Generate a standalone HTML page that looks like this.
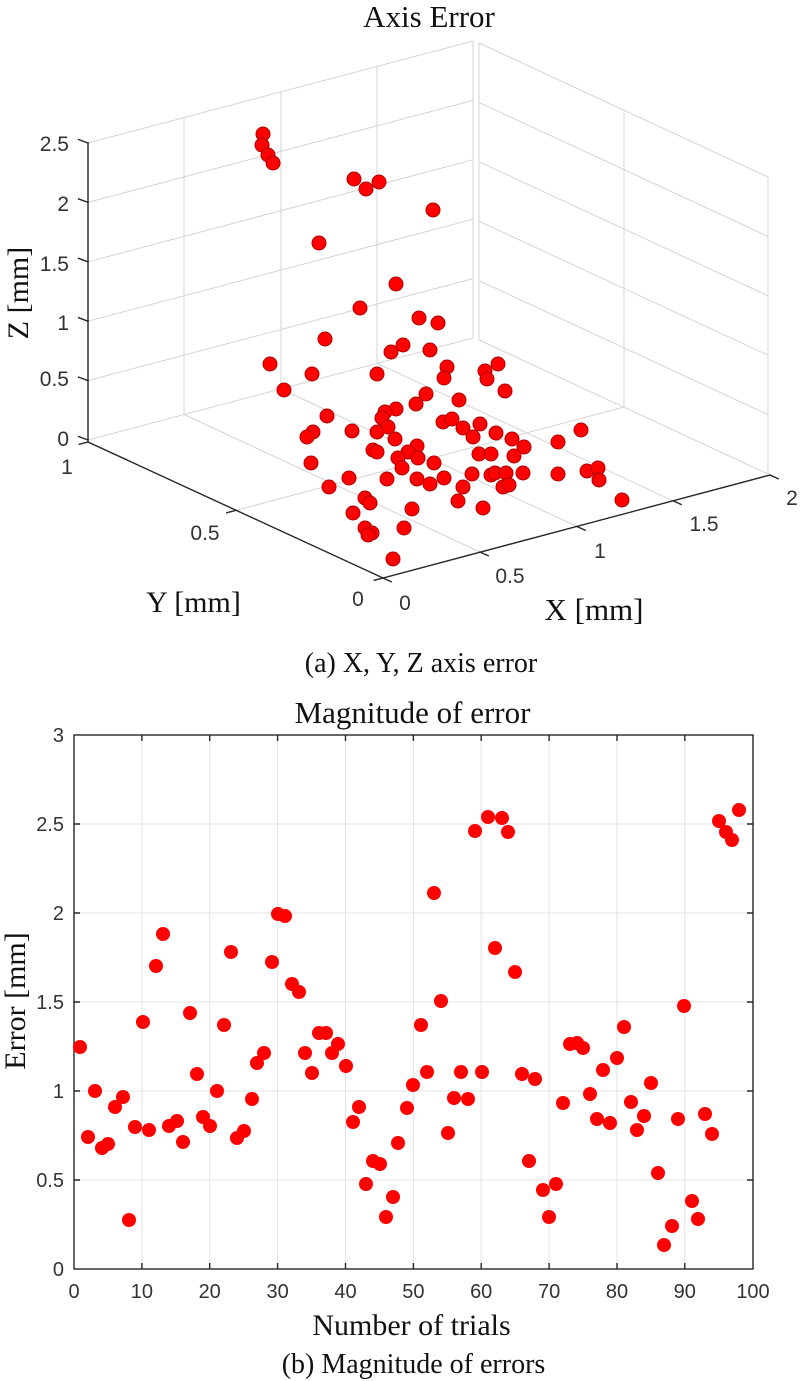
<!DOCTYPE html>
<html>
<head>
<meta charset="utf-8">
<style>
  html, body { margin:0; padding:0; background:#fff; }
  svg { display:block; }
  .serif { font-family: "Liberation Serif", serif; fill:#111; }
  .tick { font-family: "Liberation Sans", sans-serif; fill:#333; }
</style>
</head>
<body>
<svg width="800" height="1381" viewBox="0 0 800 1381" xmlns="http://www.w3.org/2000/svg">
<rect x="0" y="0" width="800" height="1381" fill="#fff"/>

<text class="serif" x="429" y="27" font-size="31" text-anchor="middle">Axis Error</text>

<g stroke="#d4d4d4" stroke-width="1" fill="none">
  <line x1="88" y1="440" x2="473" y2="338"/>
  <line x1="88" y1="380.6" x2="473" y2="278.6"/>
  <line x1="88" y1="321.2" x2="473" y2="219.2"/>
  <line x1="88" y1="261.8" x2="473" y2="159.8"/>
  <line x1="88" y1="202.4" x2="473" y2="100.4"/>
  <line x1="88" y1="143" x2="473" y2="41"/>
  <line x1="184" y1="414.5" x2="184" y2="117.5"/>
  <line x1="281" y1="388.9" x2="281" y2="91.9"/>
  <line x1="377" y1="363.4" x2="377" y2="66.4"/>
  <line x1="473" y1="338" x2="473" y2="41"/>
  <line x1="479" y1="340" x2="768" y2="474"/>
  <line x1="479" y1="280.6" x2="768" y2="414.6"/>
  <line x1="479" y1="221.2" x2="768" y2="355.2"/>
  <line x1="479" y1="161.8" x2="768" y2="295.8"/>
  <line x1="479" y1="102.4" x2="768" y2="236.4"/>
  <line x1="479" y1="43" x2="768" y2="177"/>
  <line x1="479" y1="340" x2="479" y2="43"/>
  <line x1="624" y1="407.2" x2="624" y2="110.2"/>
  <line x1="768" y1="474" x2="768" y2="177"/>
  <line x1="480" y1="552" x2="184" y2="414.5"/>
  <line x1="577" y1="526.5" x2="281" y2="389"/>
  <line x1="673" y1="500.8" x2="377" y2="363.4"/>
  <line x1="235.5" y1="510.5" x2="624" y2="407"/>
</g>

<g stroke="#262626" stroke-width="1.4" fill="none" stroke-linecap="square">
  <line x1="88" y1="442" x2="88" y2="143"/>
  <line x1="88" y1="442" x2="383" y2="578"/>
  <line x1="383" y1="578" x2="770" y2="475"/>
  <line x1="88" y1="440" x2="78.5" y2="436.5"/>
  <line x1="88" y1="380.6" x2="78.5" y2="377.1"/>
  <line x1="88" y1="321.2" x2="78.5" y2="317.7"/>
  <line x1="88" y1="261.8" x2="78.5" y2="258.3"/>
  <line x1="88" y1="202.4" x2="78.5" y2="198.9"/>
  <line x1="88" y1="143" x2="78.5" y2="139.5"/>
  <line x1="88" y1="442" x2="79.3" y2="444.3"/>
  <line x1="235.5" y1="510.5" x2="226.8" y2="512.8"/>
  <line x1="383" y1="578" x2="374.3" y2="580.3"/>
  <line x1="383" y1="578" x2="391.2" y2="581.7"/>
  <line x1="480" y1="552" x2="488.2" y2="555.7"/>
  <line x1="577" y1="526.5" x2="585.2" y2="530.2"/>
  <line x1="673" y1="500.8" x2="681.2" y2="504.5"/>
  <line x1="770" y1="475" x2="778.2" y2="478.7"/>
</g>

<g class="tick" font-size="21">
  <text x="69" y="446" text-anchor="end">0</text>
  <text x="69" y="386" text-anchor="end">0.5</text>
  <text x="69" y="330" text-anchor="end">1</text>
  <text x="69" y="271" text-anchor="end">1.5</text>
  <text x="69" y="211" text-anchor="end">2</text>
  <text x="69" y="151" text-anchor="end">2.5</text>
  <text x="67" y="474" text-anchor="middle">1</text>
  <text x="205" y="540" text-anchor="middle">0.5</text>
  <text x="358" y="606" text-anchor="middle">0</text>
  <text x="405" y="610" text-anchor="middle">0</text>
  <text x="510" y="583" text-anchor="middle">0.5</text>
  <text x="600" y="558" text-anchor="middle">1</text>
  <text x="704" y="531" text-anchor="middle">1.5</text>
  <text x="792" y="505" text-anchor="middle">2</text>
</g>

<text class="serif" font-size="30" text-anchor="middle" transform="translate(28,293) rotate(-90)">Z [mm]</text>
<text class="serif" x="193.5" y="612" font-size="30" text-anchor="middle">Y [mm]</text>
<text class="serif" x="594" y="620" font-size="31" text-anchor="middle">X [mm]</text>
<text class="serif" x="421" y="672" font-size="28" text-anchor="middle">(a) X, Y, Z axis error</text>

<g fill="#ff0000" stroke="#b00000" stroke-width="1">
  <circle cx="263" cy="134" r="7"/>
  <circle cx="262" cy="145" r="7"/>
  <circle cx="268" cy="155" r="7"/>
  <circle cx="273" cy="163" r="7"/>
  <circle cx="354" cy="179" r="7"/>
  <circle cx="366" cy="189" r="7"/>
  <circle cx="379" cy="182" r="7"/>
  <circle cx="433" cy="210" r="7"/>
  <circle cx="319" cy="243" r="7"/>
  <circle cx="396" cy="284" r="7"/>
  <circle cx="360" cy="308" r="7"/>
  <circle cx="419" cy="318" r="7"/>
  <circle cx="438" cy="323" r="7"/>
  <circle cx="325" cy="339" r="7"/>
  <circle cx="403" cy="345" r="7"/>
  <circle cx="391" cy="352" r="7"/>
  <circle cx="430" cy="350" r="7"/>
  <circle cx="270" cy="364" r="7"/>
  <circle cx="312" cy="374" r="7"/>
  <circle cx="377" cy="374" r="7"/>
  <circle cx="447" cy="367" r="7"/>
  <circle cx="444" cy="378" r="7"/>
  <circle cx="498" cy="364" r="7"/>
  <circle cx="485" cy="371" r="7"/>
  <circle cx="487" cy="379" r="7"/>
  <circle cx="505" cy="391" r="7"/>
  <circle cx="284" cy="390" r="7"/>
  <circle cx="426" cy="394" r="7"/>
  <circle cx="416" cy="404" r="7"/>
  <circle cx="459" cy="400" r="7"/>
  <circle cx="327" cy="416" r="7"/>
  <circle cx="396" cy="409" r="7"/>
  <circle cx="385" cy="412" r="7"/>
  <circle cx="382" cy="418" r="7"/>
  <circle cx="388" cy="427" r="7"/>
  <circle cx="377" cy="432" r="7"/>
  <circle cx="395" cy="439" r="7"/>
  <circle cx="352" cy="431" r="7"/>
  <circle cx="313" cy="432" r="7"/>
  <circle cx="307" cy="437" r="7"/>
  <circle cx="443" cy="422" r="7"/>
  <circle cx="452" cy="419" r="7"/>
  <circle cx="463" cy="428" r="7"/>
  <circle cx="480" cy="424" r="7"/>
  <circle cx="496" cy="433" r="7"/>
  <circle cx="473" cy="437" r="7"/>
  <circle cx="512" cy="439" r="7"/>
  <circle cx="524" cy="447" r="7"/>
  <circle cx="514" cy="456" r="7"/>
  <circle cx="479" cy="454" r="7"/>
  <circle cx="491" cy="454" r="7"/>
  <circle cx="558" cy="442" r="7"/>
  <circle cx="581" cy="430" r="7"/>
  <circle cx="373" cy="450" r="7"/>
  <circle cx="377" cy="452" r="7"/>
  <circle cx="417" cy="446" r="7"/>
  <circle cx="408" cy="452" r="7"/>
  <circle cx="418" cy="458" r="7"/>
  <circle cx="398" cy="458" r="7"/>
  <circle cx="402" cy="468" r="7"/>
  <circle cx="434" cy="463" r="7"/>
  <circle cx="311" cy="463" r="7"/>
  <circle cx="349" cy="478" r="7"/>
  <circle cx="387" cy="479" r="7"/>
  <circle cx="417" cy="479" r="7"/>
  <circle cx="430" cy="484" r="7"/>
  <circle cx="444" cy="478" r="7"/>
  <circle cx="329" cy="487" r="7"/>
  <circle cx="463" cy="487" r="7"/>
  <circle cx="472" cy="474" r="7"/>
  <circle cx="491" cy="475" r="7"/>
  <circle cx="495" cy="473" r="7"/>
  <circle cx="506" cy="473" r="7"/>
  <circle cx="523" cy="473" r="7"/>
  <circle cx="558" cy="474" r="7"/>
  <circle cx="587" cy="471" r="7"/>
  <circle cx="598" cy="468" r="7"/>
  <circle cx="599" cy="480" r="7"/>
  <circle cx="503" cy="487" r="7"/>
  <circle cx="509" cy="485" r="7"/>
  <circle cx="365" cy="498" r="7"/>
  <circle cx="370" cy="503" r="7"/>
  <circle cx="458" cy="501" r="7"/>
  <circle cx="483" cy="508" r="7"/>
  <circle cx="412" cy="509" r="7"/>
  <circle cx="353" cy="513" r="7"/>
  <circle cx="365" cy="528" r="7"/>
  <circle cx="372" cy="533" r="7"/>
  <circle cx="368" cy="535" r="7"/>
  <circle cx="404" cy="528" r="7"/>
  <circle cx="393" cy="559" r="7"/>
  <circle cx="622" cy="500" r="7"/>
</g>

<text class="serif" x="412.5" y="723" font-size="31" text-anchor="middle">Magnitude of error</text>

<g stroke="#e3e3e3" stroke-width="1" fill="none">
  <line x1="141.9" y1="735" x2="141.9" y2="1269"/>
  <line x1="209.7" y1="735" x2="209.7" y2="1269"/>
  <line x1="277.6" y1="735" x2="277.6" y2="1269"/>
  <line x1="345.5" y1="735" x2="345.5" y2="1269"/>
  <line x1="413.4" y1="735" x2="413.4" y2="1269"/>
  <line x1="481.2" y1="735" x2="481.2" y2="1269"/>
  <line x1="549.1" y1="735" x2="549.1" y2="1269"/>
  <line x1="617" y1="735" x2="617" y2="1269"/>
  <line x1="684.8" y1="735" x2="684.8" y2="1269"/>
  <line x1="74" y1="1180" x2="753" y2="1180"/>
  <line x1="74" y1="1091" x2="753" y2="1091"/>
  <line x1="74" y1="1002" x2="753" y2="1002"/>
  <line x1="74" y1="913" x2="753" y2="913"/>
  <line x1="74" y1="824" x2="753" y2="824"/>
</g>

<g stroke="#262626" stroke-width="1.4" fill="none">
  <rect x="74" y="735" width="679" height="534"/>
  <path d="M141.9 1269v-6M209.7 1269v-6M277.6 1269v-6M345.5 1269v-6M413.4 1269v-6M481.2 1269v-6M549.1 1269v-6M617 1269v-6M684.8 1269v-6"/>
  <path d="M141.9 735v6M209.7 735v6M277.6 735v6M345.5 735v6M413.4 735v6M481.2 735v6M549.1 735v6M617 735v6M684.8 735v6"/>
  <path d="M74 1180h6M74 1091h6M74 1002h6M74 913h6M74 824h6"/>
  <path d="M753 1180h-6M753 1091h-6M753 1002h-6M753 913h-6M753 824h-6"/>
</g>

<g class="tick" font-size="20">
  <text x="64" y="1276" text-anchor="end">0</text>
  <text x="64" y="1187" text-anchor="end">0.5</text>
  <text x="64" y="1098" text-anchor="end">1</text>
  <text x="64" y="1009" text-anchor="end">1.5</text>
  <text x="64" y="920" text-anchor="end">2</text>
  <text x="64" y="831" text-anchor="end">2.5</text>
  <text x="64" y="742" text-anchor="end">3</text>
  <text x="74" y="1298" text-anchor="middle">0</text>
  <text x="141.9" y="1298" text-anchor="middle">10</text>
  <text x="209.7" y="1298" text-anchor="middle">20</text>
  <text x="277.6" y="1298" text-anchor="middle">30</text>
  <text x="345.5" y="1298" text-anchor="middle">40</text>
  <text x="413.4" y="1298" text-anchor="middle">50</text>
  <text x="481.2" y="1298" text-anchor="middle">60</text>
  <text x="549.1" y="1298" text-anchor="middle">70</text>
  <text x="617" y="1298" text-anchor="middle">80</text>
  <text x="684.8" y="1298" text-anchor="middle">90</text>
  <text x="753" y="1298" text-anchor="middle">100</text>
</g>

<text class="serif" font-size="30" text-anchor="middle" transform="translate(25,1001) rotate(-90)">Error [mm]</text>
<text class="serif" x="411.5" y="1335" font-size="30" text-anchor="middle">Number of trials</text>
<text class="serif" x="413.5" y="1373" font-size="28" text-anchor="middle">(b) Magnitude of errors</text>

<g fill="#ff0000">
  <circle cx="80" cy="1047" r="7"/>
  <circle cx="88" cy="1137" r="7"/>
  <circle cx="95" cy="1091" r="7"/>
  <circle cx="102" cy="1148" r="7"/>
  <circle cx="108" cy="1144" r="7"/>
  <circle cx="115" cy="1107" r="7"/>
  <circle cx="123" cy="1097" r="7"/>
  <circle cx="129" cy="1220" r="7"/>
  <circle cx="135" cy="1127" r="7"/>
  <circle cx="143" cy="1022" r="7"/>
  <circle cx="149" cy="1130" r="7"/>
  <circle cx="156" cy="966" r="7"/>
  <circle cx="163" cy="934" r="7"/>
  <circle cx="169" cy="1126" r="7"/>
  <circle cx="177" cy="1121" r="7"/>
  <circle cx="183" cy="1142" r="7"/>
  <circle cx="190" cy="1013" r="7"/>
  <circle cx="197" cy="1074" r="7"/>
  <circle cx="203" cy="1117" r="7"/>
  <circle cx="210" cy="1126" r="7"/>
  <circle cx="217" cy="1091" r="7"/>
  <circle cx="224" cy="1025" r="7"/>
  <circle cx="231" cy="952" r="7"/>
  <circle cx="237" cy="1138" r="7"/>
  <circle cx="244" cy="1131" r="7"/>
  <circle cx="252" cy="1099" r="7"/>
  <circle cx="257" cy="1063" r="7"/>
  <circle cx="264" cy="1053" r="7"/>
  <circle cx="272" cy="962" r="7"/>
  <circle cx="278" cy="914" r="7"/>
  <circle cx="285" cy="916" r="7"/>
  <circle cx="292" cy="984" r="7"/>
  <circle cx="299" cy="992" r="7"/>
  <circle cx="305" cy="1053" r="7"/>
  <circle cx="312" cy="1073" r="7"/>
  <circle cx="319" cy="1033" r="7"/>
  <circle cx="326" cy="1033" r="7"/>
  <circle cx="332" cy="1053" r="7"/>
  <circle cx="338" cy="1044" r="7"/>
  <circle cx="346" cy="1066" r="7"/>
  <circle cx="353" cy="1122" r="7"/>
  <circle cx="359" cy="1107" r="7"/>
  <circle cx="366" cy="1184" r="7"/>
  <circle cx="373" cy="1161" r="7"/>
  <circle cx="380" cy="1164" r="7"/>
  <circle cx="386" cy="1217" r="7"/>
  <circle cx="393" cy="1197" r="7"/>
  <circle cx="398" cy="1143" r="7"/>
  <circle cx="407" cy="1108" r="7"/>
  <circle cx="413" cy="1085" r="7"/>
  <circle cx="421" cy="1025" r="7"/>
  <circle cx="427" cy="1072" r="7"/>
  <circle cx="434" cy="893" r="7"/>
  <circle cx="441" cy="1001" r="7"/>
  <circle cx="448" cy="1133" r="7"/>
  <circle cx="454" cy="1098" r="7"/>
  <circle cx="461" cy="1072" r="7"/>
  <circle cx="468" cy="1099" r="7"/>
  <circle cx="475" cy="831" r="7"/>
  <circle cx="482" cy="1072" r="7"/>
  <circle cx="488" cy="817" r="7"/>
  <circle cx="495" cy="948" r="7"/>
  <circle cx="502" cy="818" r="7"/>
  <circle cx="508" cy="832" r="7"/>
  <circle cx="515" cy="972" r="7"/>
  <circle cx="522" cy="1074" r="7"/>
  <circle cx="529" cy="1161" r="7"/>
  <circle cx="535" cy="1079" r="7"/>
  <circle cx="543" cy="1190" r="7"/>
  <circle cx="549" cy="1217" r="7"/>
  <circle cx="556" cy="1184" r="7"/>
  <circle cx="563" cy="1103" r="7"/>
  <circle cx="570" cy="1044" r="7"/>
  <circle cx="577" cy="1043" r="7"/>
  <circle cx="583" cy="1048" r="7"/>
  <circle cx="590" cy="1094" r="7"/>
  <circle cx="597" cy="1119" r="7"/>
  <circle cx="603" cy="1070" r="7"/>
  <circle cx="610" cy="1123" r="7"/>
  <circle cx="617" cy="1058" r="7"/>
  <circle cx="624" cy="1027" r="7"/>
  <circle cx="631" cy="1102" r="7"/>
  <circle cx="637" cy="1130" r="7"/>
  <circle cx="644" cy="1116" r="7"/>
  <circle cx="651" cy="1083" r="7"/>
  <circle cx="658" cy="1173" r="7"/>
  <circle cx="664" cy="1245" r="7"/>
  <circle cx="672" cy="1226" r="7"/>
  <circle cx="678" cy="1119" r="7"/>
  <circle cx="684" cy="1006" r="7"/>
  <circle cx="692" cy="1201" r="7"/>
  <circle cx="698" cy="1219" r="7"/>
  <circle cx="705" cy="1114" r="7"/>
  <circle cx="712" cy="1134" r="7"/>
  <circle cx="719" cy="821" r="7"/>
  <circle cx="726" cy="832" r="7"/>
  <circle cx="732" cy="840" r="7"/>
  <circle cx="739" cy="810" r="7"/>
</g>
</svg>
</body>
</html>
